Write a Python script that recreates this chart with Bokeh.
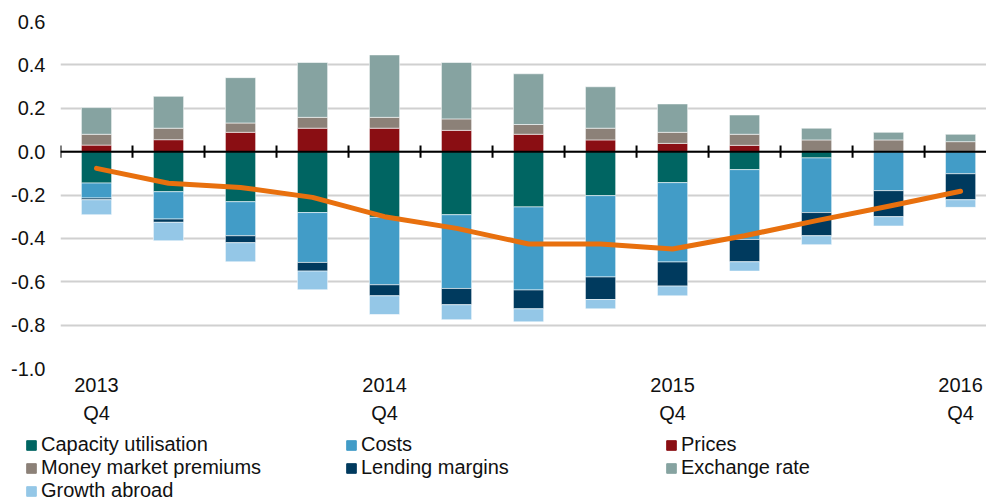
from bokeh.plotting import figure
from bokeh.layouts import column
from bokeh.models import (ColumnDataSource, FixedTicker, Span, Legend, LegendItem,
                          Range1d, NumeralTickFormatter)
from bokeh.embed import file_html
from bokeh.resources import INLINE

quarters = ["2013 Q4", "2014 Q1", "2014 Q2", "2014 Q3", "2014 Q4", "2015 Q1", "2015 Q2",
            "2015 Q3", "2015 Q4", "2016 Q1", "2016 Q2", "2016 Q3", "2016 Q4"]

prices   = [0.030, 0.055, 0.089, 0.108, 0.108, 0.098, 0.080, 0.054, 0.038, 0.029, 0.0, 0.0, 0.0]
money    = [0.050, 0.053, 0.043, 0.050, 0.050, 0.053, 0.045, 0.054, 0.051, 0.051, 0.054, 0.054, 0.046]
exchange = [0.123, 0.147, 0.209, 0.253, 0.288, 0.260, 0.234, 0.191, 0.131, 0.089, 0.054, 0.035, 0.034]
capacity = [-0.145, -0.185, -0.231, -0.281, -0.303, -0.291, -0.255, -0.203, -0.143, -0.083, -0.029, 0.0, 0.0]
costs    = [-0.069, -0.126, -0.157, -0.230, -0.311, -0.340, -0.383, -0.375, -0.366, -0.322, -0.252, -0.180, -0.102]
lending  = [-0.008, -0.015, -0.032, -0.040, -0.051, -0.075, -0.087, -0.104, -0.111, -0.103, -0.107, -0.120, -0.120]
growth   = [-0.069, -0.085, -0.088, -0.086, -0.086, -0.069, -0.060, -0.043, -0.045, -0.043, -0.041, -0.043, -0.035]
total    = [-0.077, -0.146, -0.165, -0.211, -0.300, -0.354, -0.426, -0.426, -0.449, -0.388, -0.318, -0.252, -0.183]

series_names = ["Capacity utilisation", "Costs", "Prices", "Money market premiums",
                "Lending margins", "Exchange rate", "Growth abroad"]
colors = {
    "Capacity utilisation": "#006562",
    "Costs": "#429cc7",
    "Prices": "#8a0e13",
    "Money market premiums": "#8c8178",
    "Lending margins": "#003a5e",
    "Exchange rate": "#86a3a1",
    "Growth abroad": "#94c7e7",
}

x = list(range(len(quarters)))
src = ColumnDataSource(dict(
    x=x,
    prices=prices, money=money, exchange=exchange,
    capacity=capacity, costs=costs, lending=lending, growth=growth,
    total=total,
))

FONT = "Liberation Sans"
pos_cols = ["prices", "money", "exchange"]
pos_names = ["Prices", "Money market premiums", "Exchange rate"]
neg_cols = ["capacity", "costs", "lending", "growth"]
neg_names = ["Capacity utilisation", "Costs", "Lending margins", "Growth abroad"]

W = 986
p = figure(width=W, height=433, output_backend="svg", toolbar_location=None,
           x_range=Range1d(-0.5, 12.36), y_range=Range1d(-1.0, 0.6),
           min_border_left=60, min_border_right=0, min_border_top=21, min_border_bottom=65)
p.outline_line_color = None
p.background_fill_color = "white"
p.border_fill_color = "white"

p.xgrid.grid_line_color = None
p.ygrid.grid_line_color = "#d0d0d0"
p.ygrid.grid_line_width = 2

p.yaxis.ticker = FixedTicker(ticks=[-1.0, -0.8, -0.6, -0.4, -0.2, 0.0, 0.2, 0.4, 0.6])
p.yaxis.formatter = NumeralTickFormatter(format="0.0")
p.yaxis.axis_line_color = None
p.yaxis.major_tick_line_color = None
p.yaxis.minor_tick_line_color = None
p.yaxis.major_tick_out = 0
p.yaxis.major_tick_in = 0
p.yaxis.major_label_standoff = 15
p.yaxis.major_label_text_font = FONT
p.yaxis.major_label_text_font_size = "20px"
p.yaxis.major_label_text_color = "#111111"

q4_idx = [i for i, q in enumerate(quarters) if q.endswith("Q4")]
p.xaxis.ticker = FixedTicker(ticks=q4_idx)
p.xaxis.major_label_overrides = {i: quarters[i].replace(" ", "\n") for i in q4_idx}
p.xaxis.axis_line_color = None
p.xaxis.major_tick_line_color = None
p.xaxis.minor_tick_line_color = None
p.xaxis.major_tick_out = 0
p.xaxis.major_tick_in = 0
p.xaxis.major_label_standoff = 5
p.xaxis.major_label_text_font = FONT
p.xaxis.major_label_text_font_size = "20px"
p.xaxis.major_label_text_line_height = 1.3
p.xaxis.major_label_text_color = "#111111"

bw = 0.42
pos = p.vbar_stack(pos_cols, x="x", width=bw, source=src,
                   color=[colors[n] for n in pos_names],
                   line_color="white", line_width=0.8)
neg = p.vbar_stack(neg_cols, x="x", width=bw, source=src,
                   color=[colors[n] for n in neg_names],
                   line_color="white", line_width=0.8)
for r in pos + neg:
    r.glyph.line_color = "white"
    r.glyph.line_alpha = 0.7

p.add_layout(Span(location=0, dimension="width", line_color="black", line_width=2))
bounds = [i - 0.5 for i in range(len(quarters) + 1)]
p.segment(x0=bounds, x1=bounds, y0=[-0.028] * len(bounds), y1=[0.028] * len(bounds),
          line_color="black", line_width=2)

p.line("x", "total", source=src, line_color="#e8700e", line_width=5,
       line_cap="round", line_join="round")

# legend in a separate strip below the chart (its own bars are kept out of view)
lf = figure(width=W, height=67, output_backend="svg", toolbar_location=None,
            x_range=Range1d(1000, 1001), y_range=Range1d(1000, 1001),
            min_border_left=0, min_border_right=0, min_border_top=0, min_border_bottom=0)
lf.axis.visible = False
lf.grid.visible = False
lf.outline_line_color = None
for fig in (p, lf):
    if "frame_align" in fig.properties():
        fig.frame_align = False
lpos = lf.vbar_stack(pos_cols, x="x", width=bw, source=src,
                     color=[colors[n] for n in pos_names])
lneg = lf.vbar_stack(neg_cols, x="x", width=bw, source=src,
                     color=[colors[n] for n in neg_names])
rmap = dict(zip(pos_names + neg_names, lpos + lneg))
items = [LegendItem(label=n, renderers=[rmap[n]]) for n in series_names]
legend = Legend(items=items, location=(25, -2), orientation="horizontal", ncols=3,
                glyph_width=12, glyph_height=12, label_standoff=4, label_width=304,
                spacing=0, padding=0, margin=0, border_line_color=None,
                background_fill_alpha=0, label_text_font=FONT,
                label_text_font_size="20px", label_text_color="#111111")
lf.add_layout(legend, "center")

open("out.html", "w").write(file_html(column(p, lf, spacing=0), INLINE))
